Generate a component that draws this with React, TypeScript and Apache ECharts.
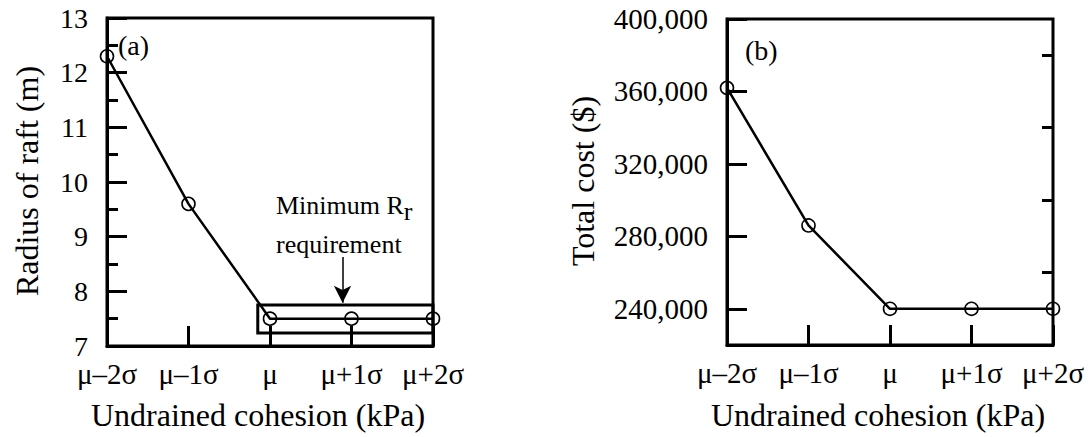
import React, { useEffect, useRef } from "react";
import * as echarts from "echarts";

const xCategories = ["μ–2σ", "μ–1σ", "μ", "μ+1σ", "μ+2σ"];
const raftRadius = [12.3, 9.6, 7.5, 7.5, 7.5];
const totalCost = [362000, 286000, 240000, 240000, 240000];
const costMajorTicks = [240000, 280000, 320000, 360000, 400000];
const costMinorTicks = [260000, 300000, 340000, 380000];
const requirementBoxX = [1.85, 4.14];
const requirementBoxY = [7.24, 7.75];
const arrowX = 2.89;
const arrowY = [8.63, 7.79];

const FONT = "Liberation Serif";
const BLACK = "#000";

function fmtThousands(v: number) {
  return String(Math.round(v)).replace(/\B(?=(\d{3})+(?!\d))/g, ",");
}

export default function App() {
  const ref = useRef<HTMLDivElement>(null);
  useEffect(() => {
    if (!ref.current) return;
    const chart = echarts.init(ref.current, undefined, { renderer: "svg" });
    const xAxisBase = (gridIndex: number) => ({
      type: "value",
      gridIndex,
      min: 0,
      max: 4,
      interval: 1,
      axisLine: { show: true, lineStyle: { color: BLACK, width: 3 } },
      axisTick: { show: true, inside: true, length: 20, lineStyle: { color: BLACK, width: 3 } },
      splitLine: { show: false },
      axisLabel: {
        show: true,
        margin: 15,
        fontFamily: FONT,
        fontSize: 29,
        lineHeight: 26,
        color: BLACK,
        formatter: (v: number) => xCategories[Math.round(v)] ?? "",
      },
    });
    const textStyle = (size: number) => ({ fontFamily: FONT, fontSize: size, fill: BLACK });
    const option: any = {
      animation: false,
      textStyle: { fontFamily: FONT },
      grid: [
        { left: 107, top: 18, width: 326, height: 328, show: true, borderColor: BLACK, borderWidth: 3, backgroundColor: "transparent" },
        { left: 727, top: 19, width: 326, height: 326, show: true, borderColor: BLACK, borderWidth: 3, backgroundColor: "transparent" },
      ],
      xAxis: [xAxisBase(0), xAxisBase(1)],
      yAxis: [
        {
          type: "value",
          gridIndex: 0,
          min: 7,
          max: 13,
          interval: 1,
          axisLine: { show: true, lineStyle: { color: BLACK, width: 3 } },
          axisTick: { show: true, inside: true, length: 20, lineStyle: { color: BLACK, width: 3 } },
          minorTick: { show: true, splitNumber: 2, length: 11, lineStyle: { color: BLACK, width: 3 } },
          splitLine: { show: false },
          minorSplitLine: { show: false },
          axisLabel: { margin: 19, fontFamily: FONT, fontSize: 28, lineHeight: 20, color: BLACK },
        },
        {
          type: "value",
          gridIndex: 1,
          min: 220000,
          max: 400000,
          interval: 20000,
          axisLine: { show: true, lineStyle: { color: BLACK, width: 3 } },
          axisTick: { show: true, inside: true, length: 20, customValues: costMajorTicks, lineStyle: { color: BLACK, width: 3 } },
          splitLine: { show: false },
          axisLabel: {
            margin: 19,
            fontFamily: FONT,
            fontSize: 29,
            lineHeight: 20,
            color: BLACK,
            customValues: costMajorTicks,
            formatter: (v: number) => fmtThousands(v),
          },
        },
        {
          type: "value",
          gridIndex: 1,
          min: 220000,
          max: 400000,
          interval: 20000,
          axisLine: { show: false },
          axisTick: { show: true, inside: true, length: 11, customValues: costMinorTicks, lineStyle: { color: BLACK, width: 3 } },
          splitLine: { show: false },
          axisLabel: { show: false },
        },
      ],
      series: [
        {
          type: "line",
          xAxisIndex: 0,
          yAxisIndex: 0,
          data: raftRadius.map((v, i) => [i, v]),
          symbol: "circle",
          symbolSize: 13,
          clip: false,
          lineStyle: { color: BLACK, width: 2.5 },
          itemStyle: { color: "rgba(0,0,0,0)", borderColor: BLACK, borderWidth: 1.6 },
          z: 5,
          markArea: {
            silent: true,
            itemStyle: { color: "rgba(0,0,0,0)", borderColor: BLACK, borderWidth: 3 },
            data: [[{ coord: [requirementBoxX[0], requirementBoxY[0]] }, { coord: [requirementBoxX[1], requirementBoxY[1]] }]],
          },
          markLine: {
            silent: true,
            symbol: ["none", "arrow"],
            symbolSize: [13, 17],
            label: { show: false },
            lineStyle: { color: BLACK, width: 1.5, type: "solid" },
            data: [[{ coord: [arrowX, arrowY[0]] }, { coord: [arrowX, arrowY[1]] }]],
          },
        },
        {
          type: "line",
          xAxisIndex: 1,
          yAxisIndex: 1,
          data: totalCost.map((v, i) => [i, v]),
          symbol: "circle",
          symbolSize: 13,
          clip: false,
          lineStyle: { color: BLACK, width: 2.5 },
          itemStyle: { color: "rgba(0,0,0,0)", borderColor: BLACK, borderWidth: 1.6 },
          z: 5,
        },
      ],
      graphic: [
        { type: "text", x: 27, y: 181, rotation: Math.PI / 2, style: { text: "Radius of raft (m)", ...textStyle(32), align: "center", verticalAlign: "middle" } },
        { type: "text", x: 583, y: 181, rotation: Math.PI / 2, style: { text: "Total cost ($)", ...textStyle(32), align: "center", verticalAlign: "middle" } },
        { type: "text", x: 258, y: 415, style: { text: "Undrained cohesion (kPa)", ...textStyle(32), align: "center", verticalAlign: "middle" } },
        { type: "text", x: 878, y: 415, style: { text: "Undrained cohesion (kPa)", ...textStyle(32), align: "center", verticalAlign: "middle" } },
        { type: "text", x: 118, y: 45, style: { text: "(a)", ...textStyle(28), align: "left", verticalAlign: "middle" } },
        { type: "text", x: 745, y: 50, style: { text: "(b)", ...textStyle(28), align: "left", verticalAlign: "middle" } },
        {
          type: "text",
          x: 276,
          y: 205,
          style: {
            text: "Minimum R{sub|r}",
            ...textStyle(26),
            align: "left",
            verticalAlign: "middle",
            rich: { sub: { fontFamily: FONT, fontSize: 26, fill: BLACK, verticalAlign: "bottom", padding: [12, 0, 0, 0] } },
          },
        },
        { type: "text", x: 276, y: 244, style: { text: "requirement", ...textStyle(26), align: "left", verticalAlign: "middle" } },
      ],
    };
    chart.setOption(option);
    return () => chart.dispose();
  }, []);
  return <div ref={ref} style={{ position: "fixed", left: 0, top: 0, width: 1089, height: 437, background: "#fff" }} />;
}
